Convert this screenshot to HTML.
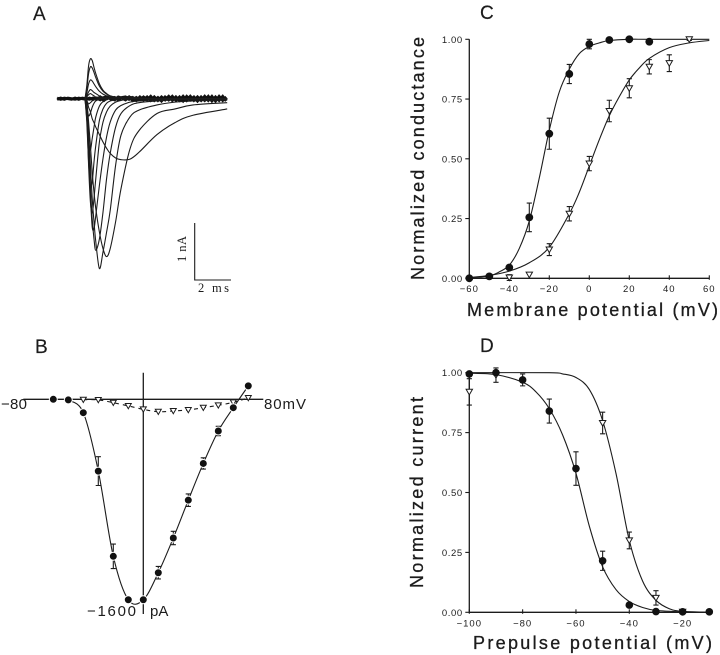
<!DOCTYPE html>
<html lang="en">
<head>
<meta charset="utf-8">
<title>Sodium current recordings and voltage dependence</title>
<style>
  html, body { margin: 0; padding: 0; background: #fff; }
  svg { display: block; font-family: "Liberation Sans", sans-serif; fill: #1c1c1c; filter: blur(.3px); }
  .line { fill: none; stroke: #1c1c1c; stroke-width: 1.1; }
  .axis { fill: none; stroke: #1c1c1c; stroke-width: 1.3; }
  .panel { font-size: 19px; stroke: #1c1c1c; stroke-width: .2; }
  .title { font-size: 18px; stroke: #1c1c1c; stroke-width: .3; }
  .tick { font-size: 9.5px; }
  .blab { font-size: 15px; }
  .scale { font-family: "Liberation Serif", serif; font-size: 12.5px; }
</style>
</head>
<body>
<svg id="fig" width="720" height="655" viewBox="0 0 720 655" xmlns="http://www.w3.org/2000/svg">
  <g>
    <text class="panel" x="33" y="20">A</text>
    <text class="panel" x="35" y="353">B</text>
    <text class="panel" x="480" y="19">C</text>
    <text class="panel" x="480" y="352">D</text>
  </g>
  <g id="panelA"></g>
  <g>
    <path class="line" d="M194.7 223V280H231"/>
    <text class="scale" transform="translate(186 262) rotate(-90)" textLength="26" lengthAdjust="spacing">1 nA</text>
    <text class="scale" x="198" y="292" textLength="31" lengthAdjust="spacing">2 ms</text>
  </g>
  <g id="panelB"></g>
  <g>
    <text class="blab" x="1" y="409" textLength="26" lengthAdjust="spacing">−80</text>
    <text class="blab" x="264" y="409" textLength="42" lengthAdjust="spacing">80mV</text>
    <text class="blab" x="87" y="616" textLength="49" lengthAdjust="spacing">−1600</text>
    <text class="blab" x="150" y="616">pA</text>
  </g>
  <g id="panelC"></g>
  <g id="panelD"></g>
  <g>
    <text class="title" transform="translate(424 280) rotate(-90)" textLength="243" lengthAdjust="spacing">Normalized conductance</text>
    <text class="title" x="467" y="316" textLength="251" lengthAdjust="spacing">Membrane potential (mV)</text>
    <text class="title" transform="translate(423 588) rotate(-90)" textLength="191" lengthAdjust="spacing">Normalized current</text>
    <text class="title" x="473" y="649" textLength="239" lengthAdjust="spacing">Prepulse potential (mV)</text>
  </g>
</svg>
<script>
/* ---------- Panel A: current traces (ms, nA) ---------- */
const traceTimes = [0,.1,.2,.3,.4,.5,.6,.8,1,1.2,1.4,1.7,2,2.5,3,4,5,6,7.9];
const traceBroad = [0,-.03,-.15,-.23,-.35,-.42,-.5,-.63,-.76,-.87,-.96,-1.04,-1.07,-1.06,-.94,-.63,-.42,-.29,-.18];
const trace2 = [0,-.06,-.41,-.82,-1.29,-1.64,-1.93,-2.34,-2.63,-2.77,-2.63,-2.16,-1.58,-.88,-.56,-.26,-.18,-.11,-.07];
const trace3 = [0,-.09,-.58,-1.17,-1.75,-2.16,-2.51,-2.98,-2.69,-2.34,-1.96,-1.17,-.64,-.32,-.2,-.11,-.06,-.04,-.02];
const trace4 = [0,-.15,-.76,-1.52,-2.11,-2.46,-2.66,-2.46,-1.99,-1.4,-.96,-.5,-.26,-.12,-.07,-.04,-.02,-.01,0];
const trace5 = [0,-.23,-.99,-1.7,-2.25,-2.28,-2.05,-1.52,-1.05,-.67,-.41,-.2,-.12,-.06,-.04,-.02,-.01,0,0];
const trace6 = [0,-.29,-1.17,-1.81,-2.01,-1.75,-1.4,-.76,-.41,-.23,-.13,-.06,-.03,-.01,0,0,0,0,0];
const trace7 = [0,-.41,-1.11,-1.52,-1.46,-1.11,-.82,-.38,-.18,-.08,-.04,-.02,0,0,0,0,0,0,0];
const trace8 = [0,-.35,-.75,-.9,-.7,-.5,-.32,-.13,-.05,-.02,0,0,0,0,0,0,0,0,0];
const trace9 = [0,-.15,-.3,-.25,-.15,-.08,-.04,-.01,0,0,0,0,0,0,0,0,0,0,0];
const trace10 = [0,-.04,-.09,-.07,-.04,-.02,-.01,0,0,0,0,0,0,0,0,0,0,0,0];
const trace11 = [0,.03,.07,.09,.07,.05,.03,.02,.01,0,0,0,0,0,0,0,0,0,0];
const trace12 = [0,.05,.12,.16,.14,.11,.09,.05,.03,.02,.01,0,0,0,0,0,0,0,0];
const trace13 = [0,.1,.26,.33,.31,.26,.21,.13,.08,.05,.03,.02,.01,0,0,0,0,0,0];
const trace14 = [0,.18,.44,.56,.54,.46,.37,.22,.13,.08,.05,.03,.03,.02,.01,0,0,0,0];
const trace15 = [0,.23,.58,.7,.67,.55,.44,.26,.15,.09,.05,.03,.02,.04,.01,0,0,0,0];
const allTraces = [traceBroad,trace2,trace3,trace4,trace5,trace6,trace7,trace8,trace9,trace10,trace11,trace12,trace13,trace14,trace15];
const baseStart = -1.55;
const baseStep = 0.2;
const baseNoiseA = [.01,-.01,.01,.0,-.01,.01,-.01,.01,.0,-.01,.01,-.01,.03,-.03,.02,.01,-.02,.03,.01,-.02,.03,-.03,.02,-.02,.03,-.02,.04,-.03,.02,-.04,.03,-.02,.04,-.03,.03,-.04,.04,-.02,.03,-.04,.03,-.03,.04,-.04,.03,-.03,.04,-.04];
const baseNoiseB = [-.01,.01,-.01,.01,.0,-.01,.01,.0,-.01,.01,-.01,.01,-.02,.02,.03,-.01,.02,-.02,.02,.03,-.01,.02,-.03,.03,-.02,.03,-.03,.03,-.03,.03,-.02,.04,-.03,.03,-.03,.04,-.03,.04,-.03,.03,-.03,.04,-.03,.04,-.04,.04,-.03,.03];

/* ---------- Panel B: current-voltage (mV, pA) ---------- */
const bCircleV = [-60,-50,-40,-30,-20,-10,0,10,20,30,40,50,60,70];
const bCircleI = [0,-5,-107,-573,-1253,-1600,-1600,-1384,-1107,-805,-512,-253,-67,107];
const bCircleErr = [0,0,0,230,195,0,0,100,107,100,90,75,0,0];
const bTriangleV = [-40,-30,-20,-10,0,10,20,30,40,50,60,70];
const bTriangleI = [-3,-5,-27,-53,-80,-99,-93,-85,-67,-48,-24,11];

/* ---------- Panel C: activation ---------- */
const cTickX = [-60,-40,-20,0,20,40,60];
const cTickY = [0,.25,.5,.75,1];
const cTickYLabels = ['0.00','0.25','0.50','0.75','1.00'];
const cCircleV = [-60,-50,-40,-30,-20,-10,0,10,20,30];
const cCircleG = [0,.008,.045,.255,.605,.855,.98,.997,1,.99];
const cCircleErr = [0,0,0,.06,.065,.04,.02,0,0,0];
const cTriangleV = [-40,-30,-20,-10,0,10,20,30,40,50];
const cTriangleG = [.003,.015,.12,.27,.48,.70,.795,.885,.90,1];
const cTriangleErr = [.012,0,.025,.03,.03,.045,.04,.03,.035,.005];
const cFitCircleV = [-60,-50,-45,-40,-35,-30,-25,-20,-15,-10,-5,0,5,10,20,30,60];
const cFitCircleG = [.002,.01,.027,.055,.125,.24,.42,.62,.78,.875,.94,.97,.985,.995,1,1,1];
const cFitTriangleV = [-60,-50,-40,-30,-20,-10,-5,0,5,10,15,20,25,30,40,50,60];
const cFitTriangleG = [.003,.012,.03,.065,.13,.27,.36,.47,.58,.68,.76,.83,.88,.92,.965,.985,.995];

/* ---------- Panel D: inactivation ---------- */
const dTickX = [-100,-80,-60,-40,-20];
const dTickY = [0,.25,.5,.75,1];
const dTickYLabels = ['0.00','0.25','0.50','0.75','1.00'];
const dCircleV = [-100,-90,-80,-70,-60,-50,-40,-30,-20,-10];
const dCircleI = [.995,1,.97,.84,.60,.215,.03,.003,.002,.002];
const dCircleErr = [0,0,.025,.05,.07,.04,0,0,0,0];
const dTriangleV = [-100,-90,-50,-40,-30,-20];
const dTriangleI = [.92,.99,.79,.30,.06,.002];
const dTriangleErr = [.055,.03,.045,.035,.03,0];
const dFitCircleV = [-100,-90,-80,-75,-70,-65,-60,-55,-50,-45,-40,-35,-30,-20,-10];
const dFitCircleI = [.998,.992,.96,.92,.85,.74,.58,.36,.19,.095,.045,.02,.008,.002,0];
const dFitTriangleV = [-100,-70,-65,-60,-55,-50,-45,-40,-35,-30,-25,-20,-10];
const dFitTriangleI = [1,1,.995,.98,.93,.80,.58,.30,.13,.05,.015,.004,0];

/* ---------- Axis functions ---------- */
const xA = t => 85 + t * 18;
const yA = v => 98.7 - v * 57;
const xB = v => 143.3 + v * 1.5;
const yB = i => 399.3 - i * 0.1253;
const xC = v => 469.3 + (v + 60) * 2;
const yC = g => 278.3 - g * 239;
const xD = v => 469.3 + (v + 100) * 240 / 90;
const yD = i => 612.3 - i * 239.6;

const NS = 'http://www.w3.org/2000/svg';
function mk(parent, tag, attrs, text) {
  const el = document.createElementNS(NS, tag);
  for (const k in attrs) el.setAttribute(k, attrs[k]);
  if (text !== undefined) el.textContent = text;
  parent.appendChild(el);
  return el;
}
function smooth(pts) {
  let d = 'M' + pts[0][0].toFixed(2) + ' ' + pts[0][1].toFixed(2);
  for (let i = 0; i < pts.length - 1; i++) {
    const p0 = pts[Math.max(i - 1, 0)], p1 = pts[i], p2 = pts[i + 1], p3 = pts[Math.min(i + 2, pts.length - 1)];
    const c1x = p1[0] + (p2[0] - p0[0]) / 6, c1y = p1[1] + (p2[1] - p0[1]) / 6;
    const c2x = p2[0] - (p3[0] - p1[0]) / 6, c2y = p2[1] - (p3[1] - p1[1]) / 6;
    d += 'C' + c1x.toFixed(2) + ' ' + c1y.toFixed(2) + ' ' + c2x.toFixed(2) + ' ' + c2y.toFixed(2) + ' ' + p2[0].toFixed(2) + ' ' + p2[1].toFixed(2);
  }
  return d;
}
function straight(pts) {
  return 'M' + pts.map(p => p[0].toFixed(2) + ' ' + p[1].toFixed(2)).join('L');
}
function drawCircle(parent, x, y, r, halo) {
  const el = mk(parent, 'circle', { cx: x, cy: y, r: r, fill: '#111', stroke: halo ? '#fff' : 'none', 'stroke-width': halo ? 1 : 0 });
  
  
}
function drawTriangle(parent, x, y, s) {
  const pts = [[x - s, y - s * .8], [x + s, y - s * .8], [x, y + s * .95]].map(p => p.join(',')).join(' ');
  const el = mk(parent, 'polygon', { points: pts, fill: '#fff', stroke: '#1c1c1c', 'stroke-width': 1 });
  
  
}
function drawError(parent, x, yLow, yHigh, cap) {
  const d = 'M' + x + ' ' + yLow + 'V' + yHigh + 'M' + (x - cap) + ' ' + yLow + 'H' + (x + cap) + 'M' + (x - cap) + ' ' + yHigh + 'H' + (x + cap);
  const el = mk(parent, 'path', { d: d, class: 'line' });
  
  
}
function drawCurve(parent, d, dash) {
  const el = mk(parent, 'path', { d: d, class: 'line' });
  if (dash) el.setAttribute('stroke-dasharray', dash);
  
  
}

/* ---------- Panel A ---------- */
const gA = document.getElementById('panelA');
function drawBase(values) {
  const pts = values.map((v, i) => [xA(baseStart + i * baseStep), yA(v)]);
  const el = mk(gA, 'path', { d: straight(pts), fill: 'none', stroke: '#111', 'stroke-width': 3 });
  
  
}
drawBase(baseNoiseA);
drawBase(baseNoiseB);
allTraces.forEach(tr => {
  const pts = traceTimes.map((t, i) => [xA(t), yA(tr[i])]);
  const el = mk(gA, 'path', { d: smooth(pts), class: 'line' });
  
  
});

/* ---------- Panel B ---------- */
const gB = document.getElementById('panelB');
const bAxisX = mk(gB, 'path', { d: 'M' + xB(-80) + ' ' + yB(0) + 'H' + xB(80), class: 'axis' });


const bAxisY = mk(gB, 'path', { d: 'M' + xB(0) + ' 372.7V614', class: 'axis' });


drawCurve(gB, smooth(bTriangleV.map((v, i) => [xB(v), yB(bTriangleI[i])])), '4 4');
drawCurve(gB, smooth(bCircleV.slice(1).map((v, i) => [xB(v), yB(bCircleI[i + 1])])));
bCircleV.forEach((v, i) => {
  if (bCircleErr[i]) drawError(gB, xB(v), yB(bCircleI[i] - bCircleErr[i] / 2), yB(bCircleI[i] + bCircleErr[i] / 2), 2.6);
});
bTriangleV.forEach((v, i) => drawTriangle(gB, xB(v), yB(bTriangleI[i]), 3));
bCircleV.forEach((v, i) => drawCircle(gB, xB(v), yB(bCircleI[i]), 4, true));

/* ---------- Panels C and D ---------- */
function drawAxes(g, xS, yS, xEnd, ticksX, ticksY, yLabels, xLabelY) {
  const y0 = yS(0), x0 = xS(ticksX[0]);
  const ax = mk(g, 'path', { d: 'M' + x0 + ' ' + yS(1) + 'V' + y0 + 'H' + xEnd, class: 'axis' });
  
  
  ticksX.forEach(v => {
    const t = mk(g, 'path', { d: 'M' + xS(v) + ' ' + (y0 - 3) + 'V' + (y0 + 1.5), class: 'line' });
    
    
    const lab = mk(g, 'text', { class: 'tick', x: xS(v), y: xLabelY, 'text-anchor': 'middle', 'letter-spacing': '1' }, String(v).replace('-', '\u2212'));
    
    
  });
  ticksY.forEach((val, i) => {
    const t = mk(g, 'path', { d: 'M' + (x0 - 4) + ' ' + yS(val) + 'H' + x0, class: 'line' });
    
    
    const lab = mk(g, 'text', { class: 'tick', x: x0 - 6.5, y: yS(val) + 3.5, 'text-anchor': 'end', 'letter-spacing': '.6' }, yLabels[i]);
    
    
  });
}

const gC = document.getElementById('panelC');
drawAxes(gC, xC, yC, xC(60), cTickX, cTickY, cTickYLabels, 292);
drawCurve(gC, smooth(cFitCircleV.map((v, i) => [xC(v), yC(cFitCircleG[i])])));
drawCurve(gC, smooth(cFitTriangleV.map((v, i) => [xC(v), yC(cFitTriangleG[i])])));
cTriangleV.forEach((v, i) => {
  if (cTriangleErr[i]) drawError(gC, xC(v), yC(cTriangleG[i] - cTriangleErr[i]), yC(cTriangleG[i] + cTriangleErr[i]), 2.6);
  drawTriangle(gC, xC(v), yC(cTriangleG[i]), 3.2);
});
cCircleV.forEach((v, i) => {
  if (cCircleErr[i]) drawError(gC, xC(v), yC(cCircleG[i] - cCircleErr[i]), yC(cCircleG[i] + cCircleErr[i]), 2.6);
  drawCircle(gC, xC(v), yC(cCircleG[i]), 3.9);
});

const gD = document.getElementById('panelD');
drawAxes(gD, xD, yD, xD(-10), dTickX, dTickY, dTickYLabels, 626.5);
drawCurve(gD, smooth(dFitCircleV.map((v, i) => [xD(v), yD(dFitCircleI[i])])));
drawCurve(gD, smooth(dFitTriangleV.map((v, i) => [xD(v), yD(dFitTriangleI[i])])));
dTriangleV.forEach((v, i) => {
  if (dTriangleErr[i]) drawError(gD, xD(v), yD(dTriangleI[i] - dTriangleErr[i]), yD(dTriangleI[i] + dTriangleErr[i]), 2.6);
  drawTriangle(gD, xD(v), yD(dTriangleI[i]), 3.2);
});
dCircleV.forEach((v, i) => {
  if (dCircleErr[i]) drawError(gD, xD(v), yD(dCircleI[i] - dCircleErr[i]), yD(dCircleI[i] + dCircleErr[i]), 2.6);
  drawCircle(gD, xD(v), yD(dCircleI[i]), 3.8);
});
</script>
</body>
</html>
